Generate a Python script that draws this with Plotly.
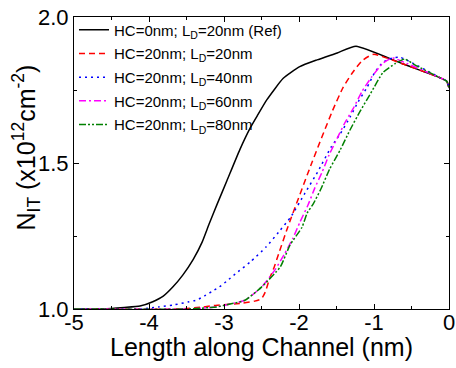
import plotly.graph_objects as go

# ---- data ----
ref_x = [-5, -4.6, -4.33, -4.12, -3.95, -3.81, -3.68, -3.55, -3.41, -3.29, -3.2, -3.09, -2.96, -2.79,
         -2.65, -2.56, -2.43, -2.21, -1.99, -1.76, -1.49, -1.24, -0.6, -0.12, -0.03, 0]
ref_y = [1.0, 1.0, 1.005, 1.01, 1.025, 1.044, 1.076, 1.116, 1.17, 1.23, 1.29, 1.36, 1.44, 1.545,
         1.62, 1.66, 1.716, 1.79, 1.83, 1.853, 1.877, 1.90, 1.838, 1.792, 1.78, 1.757]

ld20_x = [-5, -3.6, -3.28, -3.09, -2.75, -2.59, -2.5, -2.45, -2.39, -2.33, -2.27, -2.15, -1.83, -1.56,
          -1.41, -1.29, -1.16, -1.01, -0.6, -0.12, -0.03, 0]
ld20_y = [1.0, 1.0, 1.007, 1.013, 1.02, 1.027, 1.035, 1.058, 1.106, 1.144, 1.19, 1.28, 1.5, 1.675,
          1.76, 1.808, 1.85, 1.872, 1.838, 1.792, 1.78, 1.757]

ld40_x = [-5, -4.1, -3.87, -3.67, -3.48, -3.36, -3.26, -3.16, -3.06, -2.96, -2.85, -2.65, -2.44, -2.27,
          -2.11, -1.92, -1.75, -1.57, -1.45, -1.32, -1.21, -1.09, -0.99, -0.88, -0.75, -0.65, -0.12,
          -0.03, 0]
ld40_y = [1.0, 1.0, 1.007, 1.014, 1.024, 1.031, 1.045, 1.06, 1.076, 1.096, 1.12, 1.161, 1.212, 1.264,
          1.315, 1.397, 1.47, 1.555, 1.60, 1.657, 1.71, 1.76, 1.81, 1.845, 1.86, 1.862, 1.792,
          1.78, 1.757]

ld60_x = [-5, -3.5, -3.1, -2.92, -2.72, -2.5, -2.32, -2.19, -2.08, -1.99, -1.88, -1.79, -1.69, -1.6,
          -1.49, -1.39, -1.28, -1.16, -1.03, -0.88, -0.75, -0.6, -0.12, -0.03, 0]
ld60_y = [1.0, 1.0, 1.007, 1.017, 1.03, 1.075, 1.134, 1.19, 1.243, 1.296, 1.356, 1.414, 1.47, 1.527,
          1.585, 1.637, 1.685, 1.745, 1.795, 1.842, 1.86, 1.845, 1.792, 1.78, 1.757]

ld80_x = [-5, -3.5, -3.1, -2.92, -2.72, -2.5, -2.25, -2.12, -1.96, -1.89, -1.81, -1.71, -1.59, -1.45,
          -1.32, -1.19, -1.03, -0.88, -0.72, -0.59, -0.45, -0.12, -0.03, 0]
ld80_y = [1.0, 1.0, 1.007, 1.017, 1.03, 1.075, 1.144, 1.219, 1.28, 1.329, 1.36, 1.41, 1.48, 1.545,
          1.613, 1.675, 1.745, 1.81, 1.84, 1.856, 1.835, 1.792, 1.78, 1.757]

names = ["HC=0nm; L<sub>D</sub>=20nm (Ref)",
         "HC=20nm; L<sub>D</sub>=20nm",
         "HC=20nm; L<sub>D</sub>=40nm",
         "HC=20nm; L<sub>D</sub>=60nm",
         "HC=20nm; L<sub>D</sub>=80nm"]

x_ticks = [-5, -4, -3, -2, -1, 0]
y_ticks = [1.0, 1.5, 2.0]
x_title = "Length along Channel (nm)"
y_title = "N<sub>IT</sub> (x10<sup>12</sup>cm<sup>-2</sup>)"

series = [(ref_x, ref_y), (ld20_x, ld20_y), (ld40_x, ld40_y), (ld60_x, ld60_y), (ld80_x, ld80_y)]
colors = ["#000000", "#ff0000", "#0000ff", "#ff00ff", "#008000"]
dashes = ["solid", "6px,4px", "2px,4px", "7px,3px,2px,3px", "7px,2px,2px,2px,2px,2px"]

fig = go.Figure()
for i, ((xs, ys), nm, c, d) in enumerate(zip(series, names, colors, dashes)):
    fig.add_trace(go.Scatter(x=xs, y=ys, mode="lines", name=nm, legendgroup=f"g{i}",
                             line=dict(color=c, width=1.5, dash=d, shape="spline", smoothing=0.5)))

font = "Arial, Liberation Sans, sans-serif"
fig.update_layout(
    width=456, height=368,
    margin=dict(l=74, r=7, t=17, b=59, autoexpand=False),
    paper_bgcolor="white", plot_bgcolor="white",
    font=dict(family=font, color="black"),
    showlegend=True,
    legend=dict(x=0.0, y=1.012, xanchor="left", yanchor="top", bgcolor="rgba(0,0,0,0)",
                font=dict(size=15, family=font), borderwidth=0, itemwidth=30,
                tracegroupgap=1.2),
    annotations=[
        dict(text=x_title, xref="paper", yref="paper", x=0.5, y=-0.131, xanchor="center",
             yanchor="middle", showarrow=False, font=dict(size=25, family=font)),
        dict(text=y_title, xref="paper", yref="paper", x=-0.128, y=0.553, xanchor="center",
             yanchor="middle", showarrow=False, textangle=-90, font=dict(size=25, family=font)),
    ],
)
fig.update_xaxes(range=[-5, 0], tickvals=x_ticks, ticktext=[str(v) for v in x_ticks],
                 ticks="inside", ticklen=5, tickcolor="black", showline=True, linecolor="black",
                 linewidth=1, mirror="ticks", showgrid=False, zeroline=False, automargin=False,
                 tickfont=dict(size=22, family=font), ticklabelstandoff=-6,
                 minor=dict(ticks="inside", dtick=0.5, tick0=0, ticklen=3, tickcolor="black"))
fig.update_yaxes(range=[1.0, 2.0], tickvals=y_ticks, ticktext=["1.0", "1.5", "2.0"],
                 ticks="inside", ticklen=5, tickcolor="black", showline=True, linecolor="black",
                 linewidth=1, mirror="ticks", showgrid=False, zeroline=False, automargin=False,
                 tickfont=dict(size=22, family=font),
                 minor=dict(ticks="inside", dtick=0.25, tick0=0, ticklen=3, tickcolor="black"))

fig.write_html("out.html", config={"displayModeBar": False},
               post_script="document.body.style.margin='0';")
